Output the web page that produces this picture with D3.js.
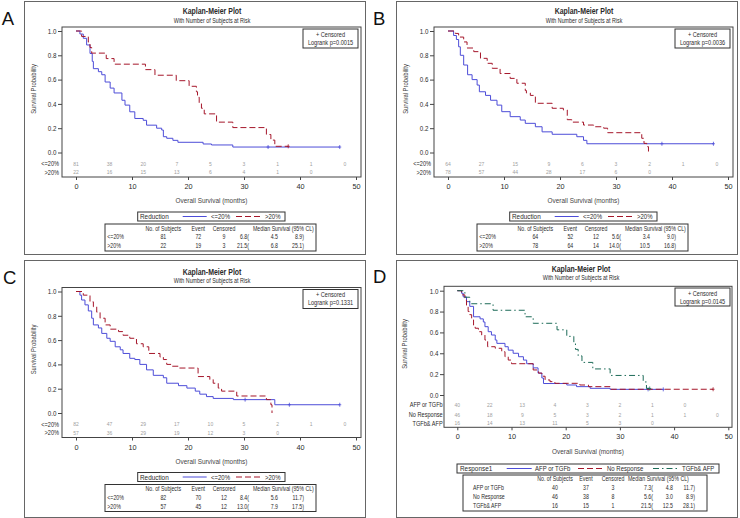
<!DOCTYPE html>
<meta charset="utf-8">
<style>
body { margin: 0; background: #fff; }
svg text { font-family: "Liberation Sans", Arial, sans-serif; }
</style>
<svg id="chart" width="740" height="518"></svg>
<script src="https://cdn.jsdelivr.net/npm/d3@7"></script>
<script>

// shared ticks
var atRiskTimes = [0, 6, 12, 18, 24, 30, 36, 42, 48];
var xTicks = [0, 10, 20, 30, 40, 50];
var yTicks = [0, 0.2, 0.4, 0.6, 0.8, 1.0];
var tableHeader = ["No. of Subjects", "Event", "Censored", "Median Survival (95% CL)"];

// panel A - [time, survival] steps
var aLow = [[0,1],[0.7,0.975],[1.3,0.94],[1.9,0.885],[2.5,0.815],[2.9,0.75],[3.1,0.69],[4,0.665],[4.6,0.64],[5.2,0.58],[6.1,0.53],[6.8,0.49],[8.2,0.43],[8.75,0.39],[9.6,0.335],[10.5,0.28],[12,0.265],[12.6,0.225],[14.4,0.2],[15.3,0.185],[15.6,0.13],[16.2,0.117],[17.3,0.1],[18.2,0.084],[22.7,0.07],[24.2,0.062],[28,0.045],[47.1,0.045]];
var aHigh = [[0,1],[1,0.955],[2.2,0.909],[2.5,0.864],[2.8,0.818],[5.4,0.773],[6.8,0.727],[12.4,0.682],[14.1,0.636],[17.9,0.591],[20.2,0.545],[21.5,0.5],[21.7,0.455],[22,0.409],[22.4,0.364],[22.9,0.318],[25.1,0.25],[28,0.205],[34,0.148],[34.8,0.102],[35.5,0.051],[37.9,0.051]];
var aLowCens = [34.3, 47.1];
var aHighCens = [37.9];
var aRiskLow = [81, 38, 20, 7, 5, 3, 1, 1, 0];
var aRiskHigh = [22, 16, 15, 13, 6, 4, 1, 0];
var aTable = [["<=20%", 81, 72, 9, "6.8", "4.5", "8.9"], [">20%", 22, 19, 3, "21.5", "6.8", "25.1"]];

// panel B
var bLow = [[0,1],[1,0.963],[1.5,0.93],[1.9,0.87],[2.2,0.8],[2.8,0.72],[3.5,0.64],[4.3,0.6],[5.2,0.555],[5.6,0.5],[6.7,0.47],[7.6,0.43],[8.75,0.39],[9.6,0.336],[11.1,0.295],[12.9,0.267],[13.8,0.24],[15.6,0.212],[16.8,0.17],[18.6,0.15],[23,0.13],[24.2,0.1],[24.8,0.072],[47.4,0.072]];
var bHigh = [[0,1],[1.3,0.98],[1.9,0.95],[2.8,0.91],[3.4,0.86],[4.6,0.83],[5.8,0.775],[7,0.734],[7.9,0.693],[9.3,0.65],[11.1,0.61],[12.3,0.57],[13.8,0.51],[14,0.49],[14.7,0.47],[15.6,0.405],[18.6,0.364],[20.6,0.35],[21.3,0.27],[22.1,0.25],[24.2,0.226],[26,0.212],[27.8,0.2],[28.5,0.163],[34.6,0.117],[35,0.075],[35.5,0.048],[35.8,0]];
var bLowCens = [38.2, 47.4];
var bHighCens = [];
var bRiskLow = [64, 27, 15, 9, 6, 3, 2, 1, 0];
var bRiskHigh = [78, 57, 44, 28, 17, 6, 0];
var bTable = [["<=20%", 64, 52, 12, "5.6", "3.4", "9.0"], [">20%", 78, 64, 14, "14.0", "10.5", "16.8"]];

// panel C
var cLow = [[0,1],[0.7,0.97],[1,0.93],[1.6,0.89],[2.2,0.84],[2.8,0.78],[3.1,0.725],[4,0.7],[4.6,0.655],[5.5,0.615],[6.1,0.59],[7,0.545],[7.9,0.52],[8.4,0.49],[9.6,0.45],[10.5,0.44],[11.4,0.4],[12.6,0.355],[13.8,0.31],[15.6,0.29],[16.2,0.245],[18.3,0.225],[19.8,0.205],[21.3,0.18],[22.1,0.155],[23.3,0.135],[24.5,0.12],[28.1,0.11],[35.5,0.068],[47.1,0.068]];
var cHigh = [[0,1],[1.3,0.97],[2.5,0.915],[3.1,0.875],[3.7,0.83],[4.3,0.78],[5.2,0.725],[6.1,0.69],[7.6,0.67],[8.4,0.64],[9.6,0.615],[10.8,0.57],[12,0.545],[13,0.49],[15,0.46],[15.6,0.44],[16.2,0.4],[17.1,0.385],[18.3,0.37],[21.8,0.3],[23.9,0.275],[24.5,0.245],[25.4,0.205],[26,0.18],[28.7,0.14],[34,0.11],[34.8,0.068],[35,0]];
var cLowCens = [30.2, 38.1, 47.1];
var cHighCens = [];
var cRiskLow = [82, 47, 29, 17, 10, 5, 2, 1, 0];
var cRiskHigh = [57, 36, 29, 19, 12, 3, 0];
var cTable = [["<=20%", 82, 70, 12, "8.4", "5.6", "11.7"], [">20%", 57, 45, 12, "13.0", "7.9", "17.5"]];

// panel D
var dEither = [[0,1],[0.8,0.975],[1.1,0.94],[1.7,0.895],[2.3,0.85],[3,0.75],[4.2,0.73],[4.8,0.7],[5.1,0.655],[5.7,0.607],[6.3,0.575],[7,0.527],[7.3,0.495],[8.8,0.463],[9.4,0.43],[10.3,0.4],[11.3,0.367],[12.2,0.335],[12.8,0.3],[14,0.26],[14.9,0.21],[15.6,0.163],[15.9,0.11],[20.2,0.096],[22,0.08],[24.5,0.064],[28.2,0.054],[38,0.054]];
var dNone = [[0,1],[0.8,0.96],[1.4,0.91],[1.7,0.86],[2,0.8],[2.3,0.77],[2.65,0.72],[3,0.67],[3.3,0.64],[3.9,0.607],[4.5,0.575],[5.1,0.527],[5.6,0.463],[7,0.448],[8.2,0.415],[8.8,0.367],[9.4,0.335],[10,0.3],[14,0.24],[15,0.21],[15.6,0.18],[16.2,0.144],[17.1,0.128],[18,0.112],[22.6,0.096],[24.2,0.08],[28.2,0.055],[47.2,0.055]];
var dBoth = [[0,1],[1.4,0.9375],[2.3,0.875],[6.6,0.8125],[12.5,0.75],[14,0.6875],[18.4,0.625],[20.2,0.5625],[21.5,0.5],[21.8,0.4375],[22.3,0.375],[23,0.3125],[25,0.25],[28.2,0.1875],[34.3,0.125],[34.9,0.0625],[35.5,0.0625]];
var dEitherCens = [35.2, 38];
var dNoneCens = [47.2];
var dBothCens = [35.5];
var dRiskEither = [40, 22, 13, 4, 3, 2, 1, 0];
var dRiskNone = [46, 18, 9, 5, 3, 2, 1, 1, 0];
var dRiskBoth = [16, 14, 13, 11, 5, 3, 0];
var dTable = [["AFP or TGFb", 40, 37, 3, "7.3", "4.8", "11.7"], ["No Response", 46, 38, 8, "5.6", "3.0", "8.9"], ["TGFb& AFP", 16, 15, 1, "21.5", "12.5", "28.1"]];

var blue = "#4d4dd8", red = "#a5162a", green = "#1d6b58";
var ink = "#2a2a2a";

var stdLayout = {
  left: 38, right: 337, top: 26, bottom: 176,
  yTop: 30, yBot: 151.5, x0: 52, x50: 332,
  riskY: [162.7, 171.3], riskLabelX: 35,
  xTitleY: 202, yTitleX: 12, yTitleY: 88,
  titleX: 188, titleY: 13, subY: 21.5,
  cbox: [279, 28, 55, 19],
  legend: { box: [113.7, 211, 147.3, 9], titleX: 116, items: [[158.7, 182.7, 187], [212, 236.7, 241]], y: 218.3 },
  table: { box: [81, 223, 211, 27], labelX: 83.3, cols: [139.3, 174.3, 200], medHeadX: 229, med: [225, 254, 280], headY: 229.7, rowY: [238.3, 247] }
};

var dLayout = {
  left: 48, right: 336, top: 26.3, bottom: 167.3,
  yTop: 30.7, yBot: 135, x0: 61.3, x50: 332.3,
  riskY: [145, 154.7, 163.3], riskLabelX: 46.7,
  xTitleY: 194, yTitleX: 10.5, yTitleY: 84,
  titleX: 185, titleY: 11.8, subY: 19.6,
  cbox: [279, 28, 55, 18],
  legend: { box: [61, 204, 262, 9], titleX: 64, items: [[110.7, 135.7, 139], [182, 207, 211], [257, 281, 286]], y: 211.3 },
  table: { box: [67, 215, 244, 36], labelX: 77, cols: [159, 190, 217], medHeadX: 232, med: [257, 277, 299], headY: 221, rowY: [229.7, 238.7, 247.7] }
};

var panels = [
  { letter: "A", lx: 1.7, ly: 25, ox: 24, oy: 1, box: [24, 1, 341, 253], L: stdLayout, p: "0.0015", legendTitle: "Reduction", table: aTable,
    curves: [
      { name: "<=20%", data: aLow, cens: aLowCens, risk: aRiskLow, color: blue, dash: null },
      { name: ">20%", data: aHigh, cens: aHighCens, risk: aRiskHigh, color: red, dash: "6,3" }] },
  { letter: "B", lx: 373, ly: 25, ox: 396, oy: 1, box: [396, 1, 341, 253], L: stdLayout, p: "0.0036", legendTitle: "Reduction", table: bTable,
    curves: [
      { name: "<=20%", data: bLow, cens: bLowCens, risk: bRiskLow, color: blue, dash: null },
      { name: ">20%", data: bHigh, cens: bHighCens, risk: bRiskHigh, color: red, dash: "6,3" }] },
  { letter: "C", lx: 3, ly: 284, ox: 24, oy: 261.5, box: [24, 260, 341, 257], L: stdLayout, p: "0.1331", legendTitle: "Reduction", table: cTable,
    curves: [
      { name: "<=20%", data: cLow, cens: cLowCens, risk: cRiskLow, color: blue, dash: null },
      { name: ">20%", data: cHigh, cens: cHighCens, risk: cRiskHigh, color: red, dash: "6,3" }] },
  { letter: "D", lx: 373, ly: 283, ox: 396, oy: 260, box: [396, 260, 341, 257], L: dLayout, p: "0.0145", legendTitle: "Response1", table: dTable,
    curves: [
      { name: "AFP or TGFb", data: dEither, cens: dEitherCens, risk: dRiskEither, color: blue, dash: null },
      { name: "No Response", data: dNone, cens: dNoneCens, risk: dRiskNone, color: red, dash: "6,3" },
      { name: "TGFb& AFP", data: dBoth, cens: dBothCens, risk: dRiskBoth, color: green, dash: "6,3,1.5,3" }] }
];

var svg = d3.select("#chart");

// condensed looking text: scale horizontally around the anchor point
function txt(g, x, y, s, o) {
  o = o || {};
  var tr = "translate(" + x + "," + y + ")" + (o.rot ? " rotate(-90)" : "") + " scale(" + (o.sx || 0.8) + ",1)";
  return g.append("text")
    .attr("transform", tr)
    .attr("text-anchor", o.anchor || "start")
    .attr("font-size", o.size || 7)
    .attr("font-weight", o.bold ? "bold" : null)
    .attr("fill", o.fill || ink)
    .text(s);
}

function survAt(data, t) {
  var s = 1;
  data.forEach(function(d) { if (d[0] <= t) s = d[1]; });
  return s;
}

function drawPanel(p) {
  var L = p.L;

  svg.append("rect")
    .attr("x", p.box[0] + 0.5).attr("y", p.box[1] + 0.5)
    .attr("width", p.box[2]).attr("height", p.box[3])
    .attr("fill", "none").attr("stroke", "#666");

  svg.append("text")
    .attr("x", p.lx).attr("y", p.ly)
    .attr("font-size", 18.5)
    .attr("fill", "#111")
    .text(p.letter);

  var g = svg.append("g").attr("transform", "translate(" + p.ox + "," + p.oy + ")");

  var x = d3.scaleLinear().domain([0, 50]).range([L.x0, L.x50]);
  var y = d3.scaleLinear().domain([0, 1]).range([L.yBot, L.yTop]);

  txt(g, L.titleX, L.titleY, "Kaplan-Meier Plot", { anchor: "middle", size: 8.2, bold: true, sx: 0.85 });
  txt(g, L.titleX, L.subY, "With Number of Subjects at Risk", { anchor: "middle", size: 6.5, sx: 0.82 });

  g.append("rect")
    .attr("x", L.left).attr("y", L.top)
    .attr("width", L.right - L.left).attr("height", L.bottom - L.top)
    .attr("fill", "none").attr("stroke", "#444");

  var yAxis = g.append("g")
    .attr("transform", "translate(" + L.left + ",0)")
    .call(d3.axisLeft(y).tickValues(yTicks).tickFormat(d3.format(".1f")).tickSize(4).tickPadding(2.5));
  yAxis.select(".domain").remove();
  yAxis.selectAll("line").attr("stroke", "#444");
  yAxis.selectAll("text").attr("font-size", 7.3).attr("fill", ink).attr("transform", "scale(0.85,1)");

  var xAxis = g.append("g")
    .attr("transform", "translate(0," + L.bottom + ")")
    .call(d3.axisBottom(x).tickValues(xTicks).tickSize(3).tickPadding(4));
  xAxis.select(".domain").remove();
  xAxis.selectAll("line").attr("stroke", "#444");
  xAxis.selectAll("text").attr("font-size", 7.3).attr("fill", ink);

  txt(g, (L.left + L.right) / 2, L.xTitleY, "Overall Survival (months)", { anchor: "middle", size: 8, sx: 0.8, fill: "#444" });
  txt(g, L.yTitleX, L.yTitleY, "Survival Probability", { anchor: "middle", size: 7.3, sx: 0.8, rot: true, fill: "#444" });

  // censored / logrank box
  var cb = L.cbox;
  g.append("rect").attr("x", cb[0]).attr("y", cb[1]).attr("width", cb[2]).attr("height", cb[3])
    .attr("fill", "#fff").attr("stroke", "#333");
  txt(g, cb[0] + cb[2] / 2, cb[1] + 7.5, "+ Censored", { anchor: "middle", size: 7, sx: 0.8 });
  txt(g, cb[0] + cb[2] / 2, cb[1] + 15.5, "Logrank p=" + p.p, { anchor: "middle", size: 7, sx: 0.8 });

  var line = d3.line()
    .x(function(d) { return x(d[0]); })
    .y(function(d) { return y(d[1]); })
    .curve(d3.curveStepAfter);

  p.curves.forEach(function(c, i) {
    g.append("path")
      .datum(c.data)
      .attr("d", line)
      .attr("fill", "none")
      .attr("stroke", c.color)
      .attr("stroke-width", 1)
      .attr("stroke-dasharray", c.dash);

    g.append("g").selectAll("path")
      .data(c.cens)
      .enter()
      .append("path")
      .attr("d", function(t) {
        var cx = x(t), cy = y(survAt(c.data, t));
        return "M" + (cx - 1.5) + "," + cy + "h3M" + cx + "," + (cy - 2) + "v4";
      })
      .attr("stroke", c.color)
      .attr("stroke-width", 0.8);

    // numbers at risk
    g.append("g").selectAll("text")
      .data(c.risk)
      .enter()
      .append("text")
      .attr("x", function(d, j) { return x(atRiskTimes[j]); })
      .attr("y", L.riskY[i] + 1.8)
      .attr("text-anchor", "middle")
      .attr("font-size", 5)
      .attr("fill", "#a0a0a0")
      .text(function(d) { return d; });

    txt(g, L.riskLabelX, L.riskY[i] + 2.4, c.name, { anchor: "end", size: 7, sx: 0.8 });
  });

  // legend
  var lg = L.legend;
  g.append("rect").attr("x", lg.box[0]).attr("y", lg.box[1]).attr("width", lg.box[2]).attr("height", lg.box[3])
    .attr("fill", "#fff").attr("stroke", "#333");
  txt(g, lg.titleX, lg.y, p.legendTitle, { size: 7.5, sx: 0.85 });
  p.curves.forEach(function(c, i) {
    var it = lg.items[i];
    g.append("line")
      .attr("x1", it[0]).attr("x2", it[1])
      .attr("y1", lg.box[1] + lg.box[3] / 2).attr("y2", lg.box[1] + lg.box[3] / 2)
      .attr("stroke", c.color).attr("stroke-width", 1)
      .attr("stroke-dasharray", c.dash);
    txt(g, it[2], lg.y, c.name, { size: 7.5, sx: 0.8 });
  });

  // summary table
  var tb = L.table;
  g.append("rect").attr("x", tb.box[0]).attr("y", tb.box[1]).attr("width", tb.box[2]).attr("height", tb.box[3])
    .attr("fill", "#fff").attr("stroke", "#333");
  tb.cols.forEach(function(cx, k) {
    txt(g, cx, tb.headY, tableHeader[k], { anchor: "middle", size: 7, sx: 0.75 });
  });
  txt(g, tb.medHeadX, tb.headY, tableHeader[3], { size: 7, sx: 0.75 });
  p.table.forEach(function(r, i) {
    var ry = tb.rowY[i];
    txt(g, tb.labelX, ry, r[0], { size: 7, sx: 0.75 });
    tb.cols.forEach(function(cx, k) {
      txt(g, cx, ry, r[k + 1], { anchor: "middle", size: 7, sx: 0.75 });
    });
    txt(g, tb.med[0], ry, r[4] + "(", { anchor: "end", size: 7, sx: 0.75 });
    txt(g, tb.med[1], ry, r[5], { anchor: "end", size: 7, sx: 0.75 });
    txt(g, tb.med[2], ry, r[6] + ")", { anchor: "end", size: 7, sx: 0.75 });
  });
}

panels.forEach(drawPanel);

</script>
